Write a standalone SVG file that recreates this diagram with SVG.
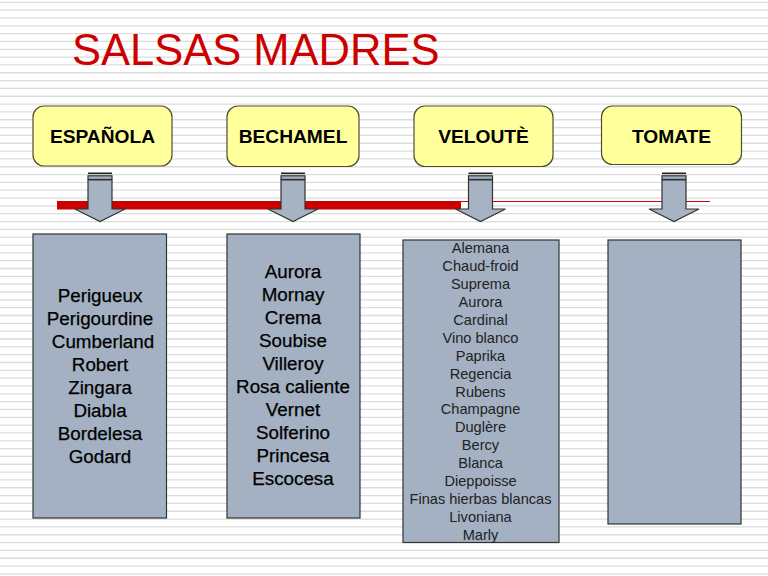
<svg xmlns="http://www.w3.org/2000/svg" width="768" height="576" viewBox="0 0 768 576">
<defs>
<style>
.grid{stroke:#dcdcdc;stroke-width:1.3;fill:none}
.head{fill:#ffff9c;stroke:#4d4d33;stroke-width:1.2}
.headt{font-family:"Liberation Sans",Arial,sans-serif;font-weight:bold;font-size:19.2px;fill:#000;text-anchor:middle}
.box{fill:#a3b1c2;stroke:#333;stroke-width:1.2}
.lt{font-family:"Liberation Sans",Arial,sans-serif;font-size:18.8px;fill:#000;text-anchor:middle;stroke:#000;stroke-width:0.25}
.st{font-family:"Liberation Sans",Arial,sans-serif;font-size:14.6px;fill:#222;text-anchor:middle}
.arr{fill:#a6b3c2;stroke:#333;stroke-width:1.2}
.bar{fill:#222}
</style>
</defs>
<rect width="768" height="576" fill="#fff"/>
<path class="grid" d="M0 2.3H768M0 10.13H768M0 17.96H768M0 25.79H768M0 33.62H768M0 41.45H768M0 49.28H768M0 57.11H768M0 64.94H768M0 72.77H768M0 80.6H768M0 88.43H768M0 96.26H768M0 104.09H768M0 111.92H768M0 119.75H768M0 127.58H768M0 135.41H768M0 143.24H768M0 151.07H768M0 158.9H768M0 166.73H768M0 174.56H768M0 182.39H768M0 190.22H768M0 198.05H768M0 205.88H768M0 213.71H768M0 221.54H768M0 229.37H768M0 237.2H768M0 245.03H768M0 252.86H768M0 260.69H768M0 268.52H768M0 276.35H768M0 284.18H768M0 292.01H768M0 299.84H768M0 307.67H768M0 315.5H768M0 323.33H768M0 331.16H768M0 338.99H768M0 346.82H768M0 354.65H768M0 362.48H768M0 370.31H768M0 378.14H768M0 385.97H768M0 393.8H768M0 401.63H768M0 409.46H768M0 417.29H768M0 425.12H768M0 432.95H768M0 440.78H768M0 448.61H768M0 456.44H768M0 464.27H768M0 472.1H768M0 479.93H768M0 487.76H768M0 495.59H768M0 503.42H768M0 511.25H768M0 519.08H768M0 526.91H768M0 534.74H768M0 542.57H768M0 550.4H768M0 558.23H768M0 566.06H768M0 573.89H768"/>

<text id="title" x="72" y="65" font-family="'Liberation Sans',Arial,sans-serif" font-size="43.5" fill="#cc0000">SALSAS MADRES</text>

<g id="connectors">
<rect x="57" y="201" width="404" height="8.5" fill="#cc0000"/>
<rect x="461" y="202" width="8" height="8" fill="#fff"/>
<rect x="461" y="201" width="249" height="1" fill="#dd0000"/>
<g id="arrow-espanola">
<rect class="bar" x="88" y="172.5" width="24" height="1.6"/>
<rect class="arr" x="88" y="175.8" width="24" height="3.6"/>
<polygon class="arr" points="88,180 112,180 112,209 125,209 100,221.5 75,209 88,209"/>
</g>
<g id="arrow-bechamel">
<rect class="bar" x="281" y="172.5" width="24" height="1.6"/>
<rect class="arr" x="281" y="175.8" width="24" height="3.6"/>
<polygon class="arr" points="281,180 305,180 305,209 318,209 293,221.5 268,209 281,209"/>
</g>
<g id="arrow-veloute">
<rect class="bar" x="468.5" y="172.5" width="24" height="1.6"/>
<rect class="arr" x="468.5" y="175.8" width="24" height="3.6"/>
<polygon class="arr" points="468.5,180 492.5,180 492.5,209 505.5,209 480.5,221.5 455.5,209 468.5,209"/>
</g>
<g id="arrow-tomate">
<rect class="bar" x="662" y="172.5" width="24" height="1.6"/>
<rect class="arr" x="662" y="175.8" width="24" height="3.6"/>
<polygon class="arr" points="662,180 686,180 686,209 699,209 674,221.5 649,209 662,209"/>
</g>
</g>

<g id="espanola">
<rect class="head" x="33" y="106" width="139" height="60" rx="11"/>
<text class="headt" x="102.5" y="143">ESPAÑOLA</text>
</g>
<g id="bechamel">
<rect class="head" x="227" y="106" width="132" height="60.5" rx="11"/>
<text class="headt" x="293" y="143">BECHAMEL</text>
</g>
<g id="veloute">
<rect class="head" x="414" y="106" width="139" height="60.5" rx="11"/>
<text class="headt" x="483.5" y="143">VELOUTÈ</text>
</g>
<g id="tomate">
<rect class="head" x="601.5" y="106" width="140" height="58.5" rx="11"/>
<text class="headt" x="671.5" y="143">TOMATE</text>
</g>

<g id="list-espanola">
<rect class="box" x="33" y="234" width="133.5" height="284"/>
<text class="lt" x="100" y="302">Perigueux</text>
<text class="lt" x="100" y="325">Perigourdine</text>
<text class="lt" x="103" y="348">Cumberland</text>
<text class="lt" x="100" y="371">Robert</text>
<text class="lt" x="100" y="394">Zingara</text>
<text class="lt" x="100" y="417">Diabla</text>
<text class="lt" x="100" y="440">Bordelesa</text>
<text class="lt" x="100" y="463">Godard</text>
</g>
<g id="list-bechamel">
<rect class="box" x="227" y="234" width="133" height="284"/>
<text class="lt" x="293" y="278">Aurora</text>
<text class="lt" x="293" y="301">Mornay</text>
<text class="lt" x="293" y="324">Crema</text>
<text class="lt" x="293" y="347">Soubise</text>
<text class="lt" x="293" y="370">Villeroy</text>
<text class="lt" x="293" y="393">Rosa caliente</text>
<text class="lt" x="293" y="416">Vernet</text>
<text class="lt" x="293" y="439">Solferino</text>
<text class="lt" x="293" y="462">Princesa</text>
<text class="lt" x="293" y="485">Escocesa</text>
</g>
<g id="list-veloute">
<rect class="box" x="403" y="240" width="156" height="302.5"/>
<text class="st" x="480.5" y="253.3">Alemana</text>
<text class="st" x="480.5" y="271.2">Chaud-froid</text>
<text class="st" x="480.5" y="289.1">Suprema</text>
<text class="st" x="480.5" y="307">Aurora</text>
<text class="st" x="480.5" y="324.9">Cardinal</text>
<text class="st" x="480.5" y="342.8">Vino blanco</text>
<text class="st" x="480.5" y="360.7">Paprika</text>
<text class="st" x="480.5" y="378.6">Regencia</text>
<text class="st" x="480.5" y="396.5">Rubens</text>
<text class="st" x="480.5" y="414.4">Champagne</text>
<text class="st" x="480.5" y="432.3">Duglère</text>
<text class="st" x="480.5" y="450.2">Bercy</text>
<text class="st" x="480.5" y="468.1">Blanca</text>
<text class="st" x="480.5" y="486">Dieppoisse</text>
<text class="st" x="480.5" y="503.9">Finas hierbas blancas</text>
<text class="st" x="480.5" y="521.8">Livoniana</text>
<text class="st" x="480.5" y="539.7">Marly</text>
</g>
<g id="list-tomate">
<rect class="box" x="608" y="240" width="133" height="284"/>
</g>
</svg>
